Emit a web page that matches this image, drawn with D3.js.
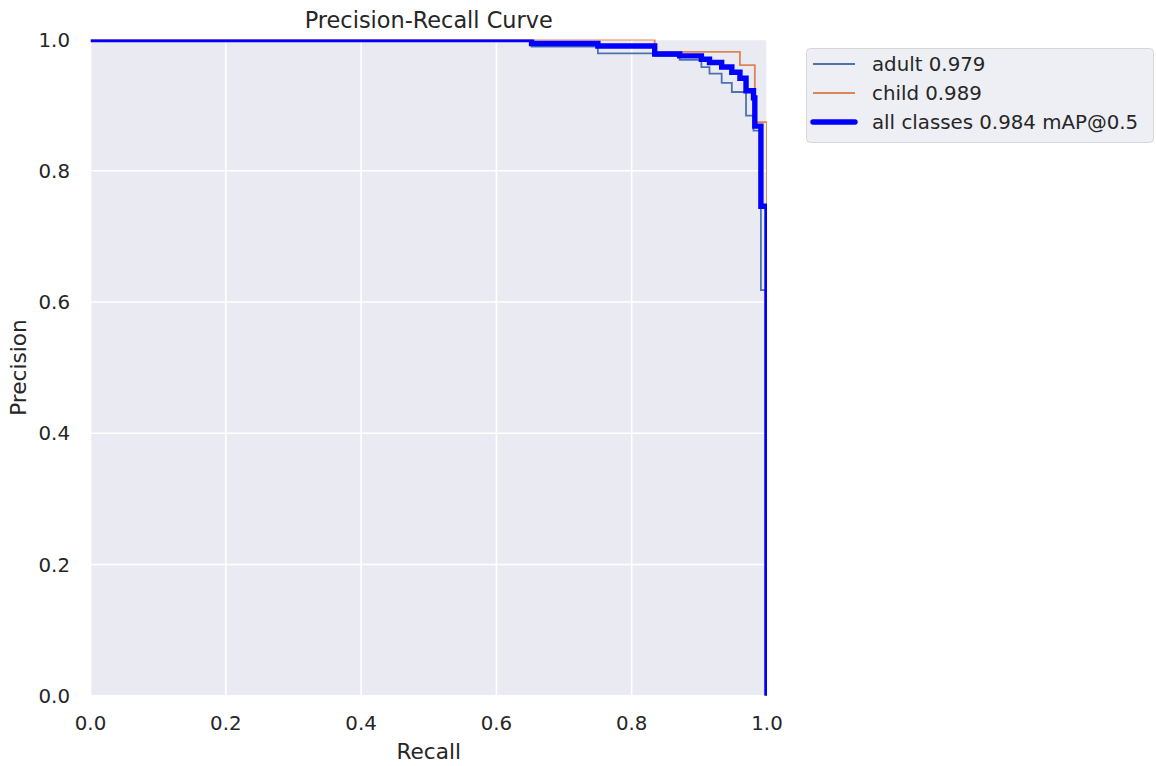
<!DOCTYPE html>
<html>
<head>
  <meta charset="utf-8">
  <title>Precision-Recall Curve</title>
  <script src="https://d3js.org/d3.v7.min.js"></script>
</head>
<style>
body {
  margin: 0;
  background-color: #fff;
  font-family: 'DejaVu Sans', sans-serif;
}
.grid line {
  stroke: #fff;
  stroke-width: 1.6px;
}
.tick-label {
  font-size: 19.8px;
  fill: #262626;
}
.axis-label {
  font-size: 21.6px;
  fill: #262626;
}
.title {
  font-size: 22.4px;
  fill: #262626;
}
.legend-text {
  font-size: 19.8px;
  fill: #262626;
}
</style>
<body>
<div id="chart"></div>

<script>
// Tick values for both axes
var recallTicks = [0, 0.2, 0.4, 0.6, 0.8, 1.0];
var precisionTicks = [0, 0.2, 0.4, 0.6, 0.8, 1.0];

// Step vertices (recall, precision)
var adultRecall    = [0, 0.652, 0.750, 0.834, 0.871, 0.903, 0.915, 0.933, 0.948, 0.969, 0.980, 0.991, 0.998, 1.0];
var adultPrecision = [1.0, 0.989, 0.979, 0.975, 0.969, 0.958, 0.948, 0.934, 0.920, 0.884, 0.861, 0.618, 0.0, 0.0];

var childRecall    = [0, 0.834, 0.960, 0.982, 1.0];
var childPrecision = [1.0, 0.981, 0.961, 0.874, 0.0];

var allRecall    = [0, 0.652, 0.750, 0.834, 0.871, 0.903, 0.915, 0.933, 0.948, 0.960, 0.969, 0.980, 0.982, 0.991, 1.0];
var allPrecision = [1.0, 0.994, 0.990, 0.978, 0.975, 0.970, 0.965, 0.958, 0.950, 0.941, 0.922, 0.911, 0.868, 0.746, 0.0];

var seriesNames = ["adult 0.979", "child 0.989", "all classes 0.984 mAP@0.5"];

// Figure size and plot box
var width = 1156,
    height = 766;
var plot = {left: 90.5, right: 767, top: 39.5, bottom: 695.7};

var svg = d3.select("#chart")
  .append("svg")
  .attr("width", width)
  .attr("height", height);

var x = d3.scaleLinear().domain([0, 1]).range([plot.left, plot.right]);
var y = d3.scaleLinear().domain([0, 1]).range([plot.bottom, plot.top]);

// Axes background
svg.append("rect")
  .attr("x", plot.left)
  .attr("y", plot.top)
  .attr("width", plot.right - plot.left)
  .attr("height", plot.bottom - plot.top)
  .attr("fill", "#eaeaf2");

svg.append("clipPath")
  .attr("id", "plot-clip")
  .append("rect")
  .attr("x", plot.left)
  .attr("y", plot.top)
  .attr("width", plot.right - plot.left)
  .attr("height", plot.bottom - plot.top);

// Grid lines
var grid = svg.append("g").attr("class", "grid");
grid.selectAll(".vgrid")
  .data(recallTicks)
  .enter()
  .append("line")
  .attr("x1", function(d) { return x(d); })
  .attr("x2", function(d) { return x(d); })
  .attr("y1", plot.top)
  .attr("y2", plot.bottom);
grid.selectAll(".hgrid")
  .data(precisionTicks)
  .enter()
  .append("line")
  .attr("y1", function(d) { return y(d); })
  .attr("y2", function(d) { return y(d); })
  .attr("x1", plot.left)
  .attr("x2", plot.right);

// Tick labels
svg.selectAll(".xtick")
  .data(recallTicks)
  .enter()
  .append("text")
  .attr("class", "tick-label")
  .attr("x", function(d) { return x(d); })
  .attr("y", 730)
  .attr("text-anchor", "middle")
  .text(function(d) { return d.toFixed(1); });

svg.selectAll(".ytick")
  .data(precisionTicks)
  .enter()
  .append("text")
  .attr("class", "tick-label")
  .attr("x", 70)
  .attr("y", function(d) { return y(d); })
  .attr("dy", "0.36em")
  .attr("text-anchor", "end")
  .text(function(d) { return d.toFixed(1); });

// Title and axis labels
svg.append("text")
  .attr("class", "title")
  .attr("x", (plot.left + plot.right) / 2)
  .attr("y", 27.5)
  .attr("text-anchor", "middle")
  .text("Precision-Recall Curve");

svg.append("text")
  .attr("class", "axis-label")
  .attr("x", (plot.left + plot.right) / 2)
  .attr("y", 759)
  .attr("text-anchor", "middle")
  .text("Recall");

svg.append("text")
  .attr("class", "axis-label")
  .attr("transform", "translate(26," + ((plot.top + plot.bottom) / 2) + ") rotate(-90)")
  .attr("text-anchor", "middle")
  .text("Precision");

// Curves
var line = d3.line()
  .x(function(d) { return x(d[0]); })
  .y(function(d) { return y(d[1]); })
  .curve(d3.curveStepAfter);

var curves = [
  {data: d3.zip(adultRecall, adultPrecision), color: "#4c72b0", width: 1.8},
  {data: d3.zip(childRecall, childPrecision), color: "#dd8452", width: 1.8},
  {data: d3.zip(allRecall, allPrecision), color: "#0000ff", width: 5.4}
];

svg.append("g")
  .attr("clip-path", "url(#plot-clip)")
  .selectAll("path")
  .data(curves)
  .enter()
  .append("path")
  .attr("d", function(d) { return line(d.data); })
  .attr("fill", "none")
  .attr("stroke", function(d) { return d.color; })
  .attr("stroke-width", function(d) { return d.width; });

// Legend
var legend = svg.append("g");
legend.append("rect")
  .attr("x", 806.5)
  .attr("y", 48.5)
  .attr("width", 347)
  .attr("height", 94)
  .attr("rx", 4)
  .attr("fill", "#eeeef5")
  .attr("stroke", "#d6d6d6")
  .attr("stroke-width", 1);

var rowY = [64, 93, 122];
curves.forEach(function(c, i) {
  legend.append("line")
    .attr("x1", 813)
    .attr("x2", 855)
    .attr("y1", rowY[i])
    .attr("y2", rowY[i])
    .attr("stroke", c.color)
    .attr("stroke-width", c.width)
    .attr("stroke-linecap", i == 2 ? "round" : "butt");
  legend.append("text")
    .attr("class", "legend-text")
    .attr("x", 872)
    .attr("y", rowY[i])
    .attr("dy", "0.36em")
    .text(seriesNames[i]);
});
</script>
</body>
</html>
